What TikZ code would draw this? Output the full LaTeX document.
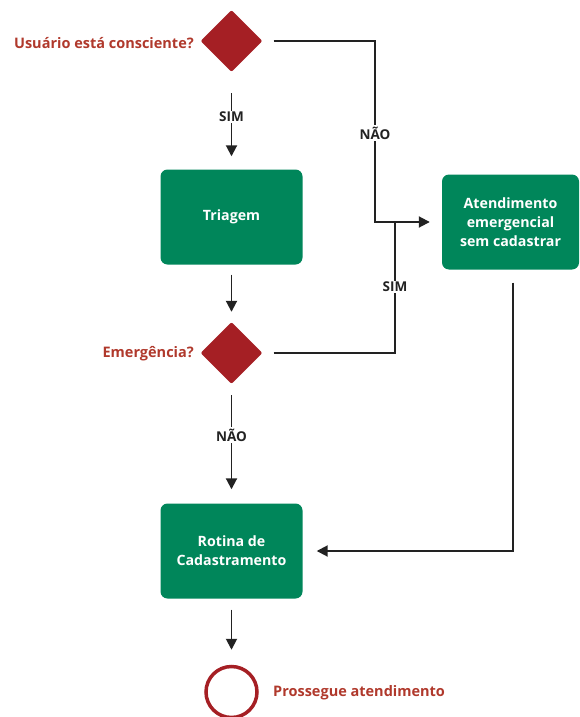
\documentclass[tikz,border=0pt]{standalone}
\usepackage{fontspec}
\setmainfont{Open Sans}
\usetikzlibrary{shapes.geometric,arrows.meta}
\definecolor{boxgreen}{HTML}{00865A}
\definecolor{decred}{HTML}{A51F24}
\definecolor{labred}{HTML}{B0392C}
\definecolor{linedark}{HTML}{222222}
\begin{document}
\begin{tikzpicture}[x=1pt,y=-1pt,
  procbox/.style={rectangle, rounded corners=7pt, fill=boxgreen, text=white,
    font=\bfseries\fontsize{14.2}{19}\selectfont, align=center,
    minimum width=142pt, minimum height=95pt, inner sep=0pt},
  decision/.style={diamond, fill=decred, minimum width=62pt, minimum height=62pt,
    inner sep=0pt, rounded corners=2pt},
  conn/.style={draw=linedark, line width=1.9pt},
  flow/.style={conn, -{Triangle[length=11pt,width=11pt]}},
  branchlbl/.style={fill=white, text=linedark, inner sep=1.5pt,
    font=\bfseries\fontsize{13.5}{15}\selectfont},
  sidelbl/.style={text=labred, inner sep=0pt, font=\bfseries\fontsize{14.5}{17}\selectfont}]
\useasboundingbox (0,0) rectangle (580,717);

% decisions, steps and end point
\node[decision] (d1) at (231.5,41) {};
\node[sidelbl, anchor=east] (q1) at (194,43) {Usuário está consciente?};
\node[procbox] (tri) at (231.5,217) {Triagem};
\node[procbox, minimum width=137pt] (atd) at (510.5,222) {Atendimento\\emergencial\\sem cadastrar};
\node[decision] (d2) at (231.5,353) {};
\node[sidelbl, anchor=east] (q2) at (194,354) {Emergência?};
\node[procbox] (rot) at (231.5,551) {Rotina de\\Cadastramento};
\node[circle, draw=decred, line width=3.5pt, minimum size=51pt, inner sep=0pt] (fim) at (231.5,692) {};
\node[sidelbl, anchor=west] (q3) at (273,693) {Prossegue atendimento};

% junction points of the emergency branch
\coordinate (j1) at (375,222);
\coordinate (j2) at (395,222);

% connectors
\draw[flow, shorten <=21pt, shorten >=13pt] (d1.south) -- (tri.north);
\draw[flow, shorten <=11pt, shorten >=12pt] (d1.east) -| (j1) -- (j1 -| atd.west);
\draw[flow, shorten <=10pt, shorten >=10pt] (tri.south) -- (d2.north);
\draw[conn, shorten <=11pt] (d2.east) -| (j2);
\draw[flow, shorten <=11pt, shorten >=14pt] (d2.south) -- (rot.north);
\draw[flow, shorten <=13pt, shorten >=14pt] ([xshift=2.5pt]atd.south) |- (rot.east);
\draw[flow, shorten <=11pt, shorten >=15pt] (rot.south) -- (fim.north);

% branch labels
\node[branchlbl] (s1) at (231.5,117) {SIM};
\node[branchlbl] (n1) at (375,133) {NÃO};
\node[branchlbl] (s2) at (395,287) {SIM};
\node[branchlbl] (n2) at (231.5,435) {NÃO};
\end{tikzpicture}
\end{document}
